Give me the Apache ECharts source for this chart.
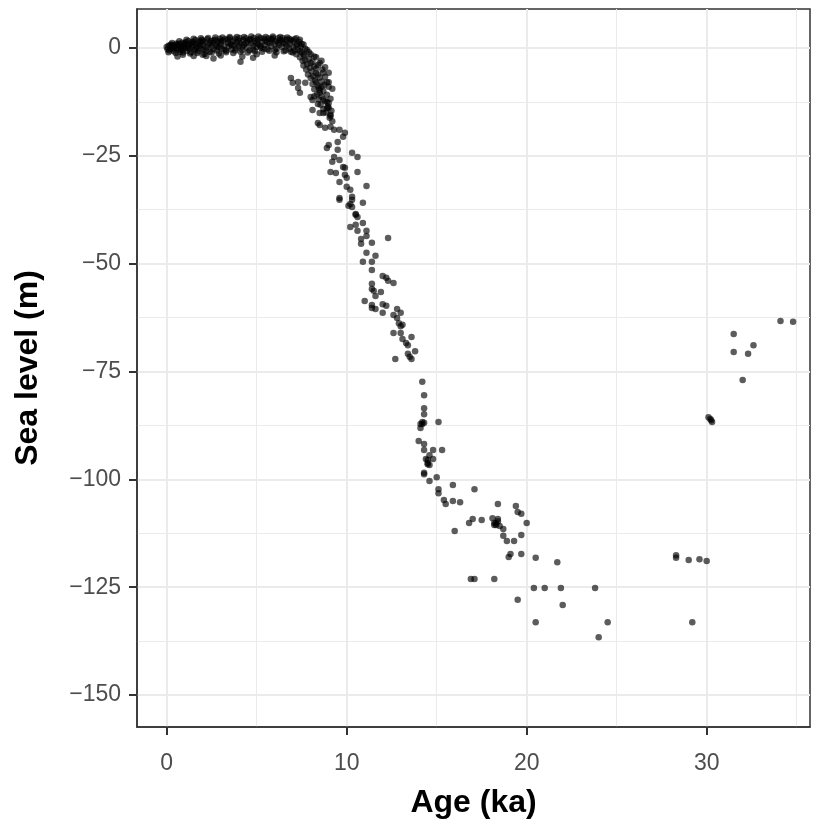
<!DOCTYPE html>
<html>
<head>
<meta charset="utf-8">
<script src="https://cdn.jsdelivr.net/npm/echarts@6/dist/echarts.min.js"></script>
<style>
html,body{margin:0;padding:0;background:#fff;}
#chart{width:815px;height:825px;}
</style>
</head>
<body>
<div id="chart"></div>
<script>
// Age (ka), sea level (m) pairs
const holocene = [
[0,0.2],[0.05,-0.3],[0.1,0.5],[0.15,-0.6],[0.2,0.1],[0.25,0.8],[0.3,-0.2],[0.35,0.4],[0.4,-0.8],[0.45,0.6],[0.5,0.0],[0.55,1.0],[0.6,-0.4],[0.65,0.3],[0.7,0.9],[0.75,-0.9],[0.8,0.2],[0.85,1.2],[0.9,-0.3],[0.95,0.6],[1.0,0.0],
[1.05,1.3],[1.1,-0.7],[1.15,0.5],[1.2,1.6],[1.25,-0.2],[1.3,0.9],[1.35,-1.0],[1.4,0.3],[1.45,1.4],[1.5,0.7],[1.55,-0.5],[1.6,1.8],[1.65,0.2],[1.7,1.0],[1.75,-0.8],[1.8,1.5],[1.85,0.4],[1.9,-0.2],[1.95,1.9],[2.0,0.8],[0.9,-1.6],[2.0,-1.6],[2.6,-2.5],
[2.05,-0.4],[2.1,1.3],[2.2,0.1],[2.25,2.0],[2.3,0.6],[2.4,-0.9],[2.45,1.6],[2.5,0.3],[2.55,1.1],[2.6,-0.3],[2.7,1.9],[2.75,0.7],[2.8,-0.6],[2.85,1.4],[2.9,0.2],[2.95,2.1],[3.0,0.9],
[3.05,-0.2],[3.1,1.7],[3.2,0.5],[3.25,2.0],[3.3,-0.7],[3.4,1.2],[3.45,0.3],[3.5,2.2],[3.55,0.9],[3.6,-0.4],[3.7,1.6],[3.75,0.6],[3.8,2.1],[3.85,-0.1],[3.9,1.3],[4.0,0.4],
[4.05,2.3],[4.1,-3.2],[4.1,1.0],[4.2,-0.5],[4.25,1.8],[4.3,0.7],[4.4,2.2],[4.45,0.1],[4.5,1.4],[4.6,-0.6],[4.65,2.0],[4.7,1.0],[4.8,-2.3],[4.8,0.5],[4.85,2.3],[4.9,1.6],[5.0,0.2],
[5.05,1.9],[5.1,0.8],[5.2,2.3],[5.25,0.0],[5.3,1.4],[5.4,2.1],[5.45,0.6],[5.5,1.7],[5.6,-0.3],[5.65,2.2],[5.7,1.1],[5.8,0.4],[5.85,1.9],[5.9,2.3],[6.0,0.9],
[6.05,1.5],[6.1,-0.2],[6.2,2.2],[6.25,0.7],[6.3,1.8],[6.4,0.2],[6.45,2.3],[6.5,1.2],[6.6,-0.6],[6.65,1.9],[6.7,0.5],[6.8,2.1],[6.85,1.0],[6.9,-0.9],[7.0,1.6],[7.05,0.2],[7.1,2.0],[7.2,-1.5],[7.25,0.9],[7.3,-0.4]
];
const holoceneExtra = [
[0.1,-1.0],[0.3,1.1],[0.5,-1.2],[0.7,1.5],[0.9,-1.1],[1.1,1.9],[1.3,-1.3],[1.5,2.1],[1.7,-1.2],[1.9,2.2],[2.1,-1.4],[2.3,2.3],[2.5,-1.1],[2.7,2.4],[2.9,-1.3],[3.1,2.4],[3.3,-1.0],[3.5,2.5],[3.7,-1.2],[3.9,2.5],
[4.1,-0.9],[4.3,2.5],[4.5,-1.1],[4.7,2.6],[4.9,-0.8],[5.1,2.6],[5.3,-0.9],[5.5,2.5],[5.7,-0.7],[5.9,2.6],[6.1,-1.0],[6.3,2.5],[6.5,-0.8],[6.7,2.4],[6.9,1.8],[7.1,-0.6],[7.2,2.2],[7.4,1.9],
[0.6,-2.0],[1.5,-1.9],[3.0,-1.8],[4.2,-2.0],[6.0,-1.8],[5.0,-1.5],[2.2,-1.9],
[0.2,0.6],[0.4,0.2],[0.6,0.7],[0.8,-0.5],[1.0,1.0],[1.2,0.0],[1.4,1.2],[1.6,-0.3],[1.8,0.8],[2.0,1.6],[2.2,-0.7],[2.4,1.0],[2.6,1.7],[2.8,0.3],[3.0,1.5],[3.2,-0.5],[3.4,1.9],[3.6,0.7],[3.8,-0.6],[4.0,1.7],
[4.2,0.3],[4.4,1.1],[4.6,1.9],[4.8,-0.4],[5.0,1.2],[5.2,0.4],[5.4,-0.2],[5.6,1.3],[5.8,2.0],[6.0,-0.5],[6.2,1.2],[6.4,1.7],[6.6,0.9],[6.8,-0.2],[7.0,-1.1],[7.2,0.6],[7.4,-0.8],[7.6,-1.5]
];
const meltOnset = [
[7.35,1.4],[7.4,-2.2],[7.45,0.3],[7.5,-1.0],[7.55,-3.0],[7.6,0.8],[7.6,-4.1],[7.65,-1.8],[7.7,-2.9],[7.75,-5.0],[7.8,-0.5],[7.8,-3.8],[7.85,-6.2],[7.9,-2.5],[7.95,-4.6],[8.0,-7.0],[8.0,-1.5],[8.05,-5.5],[8.1,-3.2],[8.1,-8.4],[8.15,-6.6],[8.2,-4.3],[8.2,-9.6],[8.25,-7.5],[8.3,-2.2],[8.3,-5.9],[8.35,-10.8],[8.4,-8.8],[8.4,-4.0],[8.45,-12.0],[8.5,-6.9],[8.5,-9.8],[8.55,-13.2],[8.6,-7.8],[8.6,-11.3],[8.65,-5.0],[8.7,-10.0],[8.7,-14.2],[8.75,-8.6],[8.8,-12.4],[8.8,-6.7],[8.85,-15.0],[8.9,-10.9],[8.95,-13.6],[9.0,-8.0],[9.05,-16.2],[9.1,-11.8],[9.15,-14.6],[9.2,-9.5],[9.2,-17.0],
[6.9,-7.0],[7.0,-8.1],[7.3,-7.9],[7.3,-9.3],[7.4,-10.4],[7.7,-8.1],[8.7,-5.8],[9.0,-5.8],[8.5,-3.5],[9.0,-9.0],[8.5,-10.4],[8.0,-11.4],[8.1,-12.1],[8.9,-12.5],[9.0,-13.9],[8.7,-15.1],[9.1,-15.8],[8.1,-14.4],[8.5,-15.1],[9.0,-12.8],[9.1,-15.5],
[7.5,0.9],[7.7,-0.2],[7.9,-1.0],[8.0,-3.5],[8.2,-2.0],[8.3,-4.8],[8.4,-6.2],[8.6,-3.0],[8.6,-9.0],[8.8,-4.5],[8.9,-8.0],[8.3,-8.0],[8.45,-9.3],[8.7,-12.0],[8.9,-14.0],[8.2,-11.2],[8.4,-13.0]
];
const deglacial = [
[8.4,-17.4],[8.5,-17.9],[8.8,-18.5],[9.1,-18.3],[9.3,-19.0],[9.6,-19.0],[9.9,-19.7],[9.8,-20.6],[9.5,-21.8],[9.0,-22.5],[8.9,-23.2],[9.5,-23.6],[9.3,-25.3],[9.6,-26.0],[9.2,-26.4],[9.8,-27.6],[9.9,-27.8],[10.3,-24.3],[10.6,-25.3],[9.1,-28.8],[9.4,-29.0],[9.9,-29.4],[9.6,-31.1],[10.0,-30.1],[10.0,-32.2],[10.6,-28.8],[11.1,-32.0],[10.2,-32.9],[10.3,-34.5],[9.6,-34.8],[10.2,-36.2],[10.9,-35.9],
[9.6,-35.2],[10.3,-35.2],[10.1,-36.6],[10.3,-36.9],[10.5,-38.5],[10.5,-38.7],[10.6,-39.2],[10.9,-40.6],[10.5,-41.0],[10.2,-41.5],[10.6,-42.4],[11.1,-42.4],[11.1,-43.6],[10.8,-44.3],[10.8,-45.4],[11.4,-45.2],[12.3,-44.1],[11.1,-47.5],[11.6,-48.2],[10.9,-49.6],[11.4,-49.6],[11.4,-51.5],[12.0,-52.9],[12.2,-53.3],[12.3,-54.0],[12.6,-54.5],[11.4,-54.7],[11.4,-55.9],[11.5,-56.3],[11.9,-56.6],[11.6,-57.5],[11.0,-58.7],[11.4,-59.6],[11.4,-60.3],[11.6,-60.5],[12.0,-59.4],[12.2,-59.8],[12.0,-61.4],[12.8,-60.5],[13.0,-61.4],[12.6,-61.9],[12.8,-62.6],[12.9,-63.8],[13.0,-64.5],[13.1,-64.2],[12.6,-66.1],[13.0,-66.1],[13.6,-67.0],[13.1,-67.5],[13.3,-68.4],[13.4,-68.9],[13.8,-70.3],[13.4,-70.9],[13.5,-71.6],[13.6,-72.1],[12.7,-72.1]
];
const lateGlacial = [
[14.2,-77.4],[14.3,-80.5],[14.3,-83.5],[14.3,-84.9],[14.1,-87.2],[14.2,-87.2],[14.1,-88.1],[14.2,-86.7],[14.3,-86.9],[15.1,-86.7],[14.0,-91.1],[14.3,-91.8],[14.3,-93.2],[14.8,-93.2],[15.3,-93.2],[14.6,-94.4],[14.4,-95.3],[14.5,-95.5],[14.8,-95.3],[14.6,-96.7],[14.5,-96.2],[14.5,-96.5],[14.3,-98.5],[14.3,-98.8],[15.0,-99.5],[14.6,-100.4],[15.1,-102.3],[15.1,-103.2],[15.9,-101.3],[17.1,-102.3],[15.4,-104.8],[15.5,-105.7],[15.9,-105.0],[16.3,-105.3],[18.4,-105.7],[19.4,-106.2],[19.5,-107.6],[19.7,-108.0],[17.0,-109.2],[17.5,-109.4],[18.1,-109.0],[18.4,-109.2],[20.0,-110.1],[16.0,-112.0],[16.8,-110.1],[18.2,-110.1],[18.3,-110.6],[18.4,-109.7],[18.2,-110.6],[18.5,-110.8],[18.3,-110.2],[18.7,-111.5],[18.7,-113.1],[18.9,-114.3],[19.3,-114.3],[19.7,-112.9],[19.1,-117.3],[19.0,-118.0],[19.7,-117.3],[20.5,-118.2],[21.7,-119.2],[16.9,-123.1],[17.1,-123.1],[18.2,-123.1],[20.4,-125.2],[21.0,-125.2],[21.9,-125.2],[23.8,-125.2],[19.5,-127.9],[22.0,-129.1],[20.5,-133.1],[24.5,-133.1],[24.0,-136.6]
];
const glacial = [
[34.1,-63.3],[34.8,-63.5],[31.5,-66.3],[32.6,-68.9],[31.5,-70.5],[32.3,-70.9],[32.0,-77.0],[30.1,-85.6],[30.2,-86.0],[30.3,-86.7],[30.25,-86.3],[28.3,-117.6],[28.3,-118.2],[29.0,-118.7],[29.6,-118.5],[30.0,-118.9],[29.2,-133.1]
];
const xMajor = [0, 10, 20, 30];
const xMinor = [5, 15, 25, 35];
const yMajor = [0, -25, -50, -75, -100, -125, -150];
const yMinor = [-12.5, -37.5, -62.5, -87.5, -112.5, -137.5];

const allPoints = holocene.concat(holoceneExtra, meltOnset, deglacial, lateGlacial, glacial);
const xMin = -1.65, xMax = 35.74, yMin = -157.4, yMax = 9.0;

const chart = echarts.init(document.getElementById('chart'));
const font = 'Liberation Sans, Arial, sans-serif';
const hidden = {show:false};
const fmt = v => String(v).replace('-', '\u2212');
const frameLine = {show:true, onZero:false, lineStyle:{color:'#333333', width:1.5}};
chart.setOption({
  animation: false,
  backgroundColor: '#ffffff',
  grid: {left:137, top:9, right:5, bottom:98, show:true, borderColor:'#333333', borderWidth:1.5, backgroundColor:'transparent'},
  xAxis: [{
    type:'value', min:xMin, max:xMax,
    name:'Age (ka)', nameLocation:'middle', nameGap:60,
    nameTextStyle:{fontFamily:font, fontSize:32, fontWeight:'bold', color:'#000'},
    axisLine:frameLine,
    axisTick:{show:true, inside:false, length:8, customValues:xMajor, lineStyle:{color:'#333333', width:2}},
    axisLabel:{customValues:xMajor, margin:25, fontFamily:font, fontSize:23, color:'#4d4d4d', formatter:fmt},
    splitLine:{show:true, lineStyle:{color:'#ebebeb', width:2}}
  },{
    type:'value', min:xMin, max:xMax, position:'bottom',
    axisLine:{show:false, onZero:false}, axisLabel:hidden,
    axisTick:{show:false, customValues:xMinor},
    splitLine:{show:true, lineStyle:{color:'#ebebeb', width:1}}
  }],
  yAxis: [{
    type:'value', min:yMin, max:yMax,
    name:'Sea level (m)', nameLocation:'middle', nameGap:93, nameRotate:90,
    nameTextStyle:{fontFamily:font, fontSize:32, fontWeight:'bold', color:'#000'},
    axisLine:frameLine,
    axisTick:{show:true, inside:false, length:8, customValues:yMajor, lineStyle:{color:'#333333', width:2}},
    axisLabel:{customValues:yMajor, margin:16, fontFamily:font, fontSize:23, color:'#4d4d4d', formatter:fmt},
    splitLine:{show:true, lineStyle:{color:'#ebebeb', width:2}}
  },{
    type:'value', min:yMin, max:yMax, position:'left',
    axisLine:{show:false, onZero:false}, axisLabel:hidden,
    axisTick:{show:false, customValues:yMinor},
    splitLine:{show:true, lineStyle:{color:'#ebebeb', width:1}}
  }],
  series: [{
    type:'scatter', xAxisIndex:0, yAxisIndex:0,
    data: allPoints,
    symbol:'circle', symbolSize:6.5,
    itemStyle:{color:'rgba(0,0,0,0.8)'},
    z:5
  }]
});
</script>
</body>
</html>
